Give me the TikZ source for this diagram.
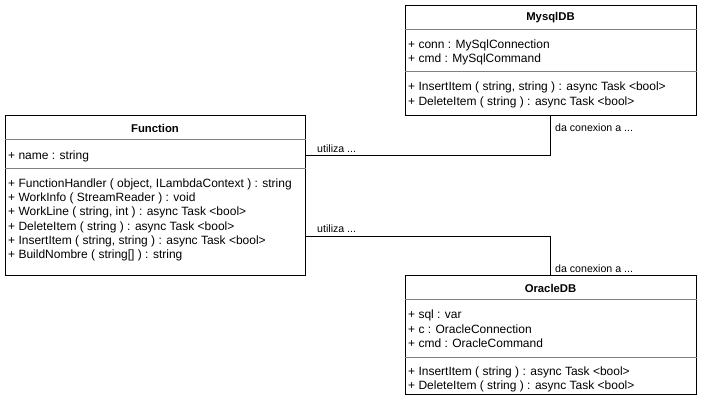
\documentclass[tikz,border=0pt]{standalone}
\usepackage{fontspec}
\setmainfont{Liberation Sans}
\begin{document}
\begin{tikzpicture}[x=1pt,y=-1pt,
  cls/.style={draw=black,line width=0.9pt,fill=white,anchor=north west,inner sep=0pt,minimum width=#1},
  ttl/.style={font=\fontsize{11.3}{13}\selectfont\bfseries,inner sep=0pt},
  mem/.style={font=\fontsize{12}{14}\selectfont,anchor=west,inner sep=0pt},
  lbl/.style={font=\fontsize{10.6}{13}\selectfont,anchor=west,inner sep=0pt},
  divl/.style={draw={rgb,255:red,128;green,128;blue,128},line width=0.9pt},
  conn/.style={draw=black,line width=0.9pt}]
\useasboundingbox (0,0) rectangle (701,401);
% MysqlDB
\node[cls=291pt,minimum height=110pt] (mysql) at (405,5) {};
\node[ttl] (mysqlT) at (550.5,18) {MysqlDB};
\draw[divl] (mysql.north west |- 0,29) -- (mysql.north east |- 0,29);
\node[mem] (m1) at (408,45.5) {+ conn : MySqlConnection};
\node[mem] (m2) at (408,59.5) {+ cmd : MySqlCommand};
\draw[divl] (mysql.north west |- 0,71) -- (mysql.north east |- 0,71);
\node[mem] (m3) at (408,87.5) {+ InsertItem ( string, string ) : async Task <bool>};
\node[mem] (m4) at (408,102) {+ DeleteItem ( string ) : async Task <bool>};
% Function
\node[cls=300pt,minimum height=160pt] (func) at (5,115) {};
\node[ttl] (funcT) at (155,128) {Function};
\draw[divl] (func.north west |- 0,139) -- (func.north east |- 0,139);
\node[mem] (f1) at (8,156) {+ name : string};
\draw[divl] (func.north west |- 0,168) -- (func.north east |- 0,168);
\node[mem] (f2) at (8,184.5) {+ FunctionHandler ( object, ILambdaContext ) : string};
\node[mem] (f3) at (8,198.5) {+ WorkInfo ( StreamReader ) : void};
\node[mem] (f4) at (8,212.5) {+ WorkLine ( string, int ) : async Task <bool>};
\node[mem] (f5) at (8,227) {+ DeleteItem ( string ) : async Task <bool>};
\node[mem] (f6) at (8,241) {+ InsertItem ( string, string ) : async Task <bool>};
\node[mem] (f7) at (8,255.5) {+ BuildNombre ( string[] ) : string};
% OracleDB
\node[cls=291pt,minimum height=119pt] (ora) at (405,275) {};
\node[ttl] (oraT) at (550.5,288) {OracleDB};
\draw[divl] (ora.north west |- 0,299) -- (ora.north east |- 0,299);
\node[mem] (o1) at (408,315.5) {+ sql : var};
\node[mem] (o2) at (408,329.5) {+ c : OracleConnection};
\node[mem] (o3) at (408,343.5) {+ cmd : OracleCommand};
\draw[divl] (ora.north west |- 0,357) -- (ora.north east |- 0,357);
\node[mem] (o4) at (408,372.5) {+ InsertItem ( string ) : async Task <bool>};
\node[mem] (o5) at (408,386.5) {+ DeleteItem ( string ) : async Task <bool>};
% connectors
\draw[conn] (func.east |- 0,155) -| (550,0 |- mysql.south);
\draw[conn] (func.east |- 0,236) -| (550,0 |- ora.north);
\node[lbl] (u1) at (317,149) {utiliza ...};
\node[lbl] (d1) at (555,128) {da conexion a ...};
\node[lbl] (u2) at (317,229) {utiliza ...};
\node[lbl] (d2) at (555,268.5) {da conexion a ...};
\end{tikzpicture}
\end{document}
